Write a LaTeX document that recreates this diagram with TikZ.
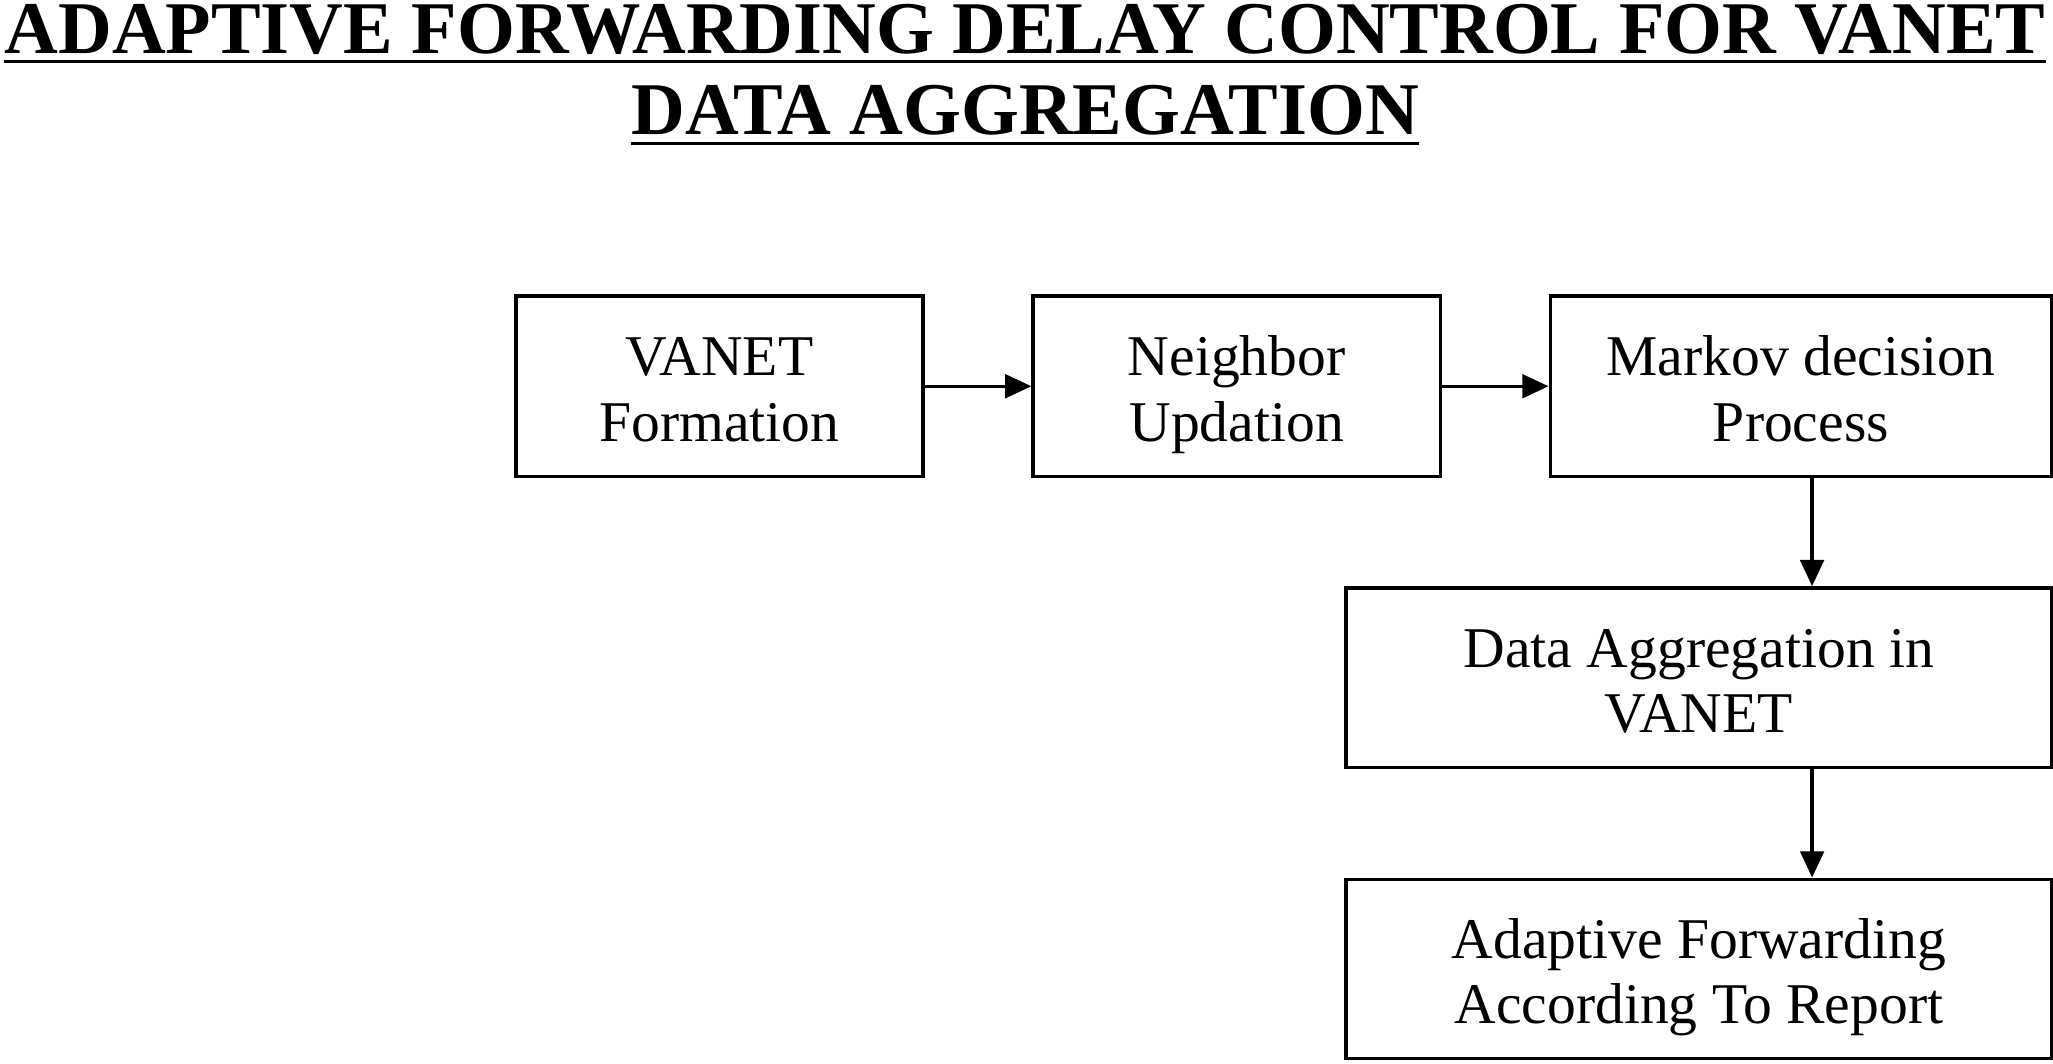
\documentclass[tikz,border=0pt]{standalone}
\usepackage{fontspec}
\setmainfont{Liberation Serif}
\usetikzlibrary{arrows.meta}
\newcommand{\topstrut}{\rule{0pt}{22pt}}
\newcommand{\botstrut}{\rule[-5pt]{0pt}{5pt}}
\begin{document}
\begin{tikzpicture}[x=0.5pt,y=-0.5pt,
  box/.style={draw,line width=1.3pt,align=center,inner sep=0pt,
    font=\fontsize{22}{25}\selectfont},
  hbox/.style={box,minimum height=69pt},
  vbox/.style={box,minimum width=269.5pt,minimum height=68.5pt},
  ttl/.style={inner sep=0pt,anchor=base,font=\bfseries\fontsize{28.4}{31.5}\selectfont},
  uline/.style={line width=1.1pt},
  arr/.style={line width=1.3pt,-{Triangle[length=10pt,width=9pt]}}]
\useasboundingbox (0,0) rectangle (1568,812);
% title
\node[ttl] (t1) at (783,41) {ADAPTIVE FORWARDING DELAY CONTROL FOR VANET};
\node[ttl] (t2) at (783,103) {DATA AGGREGATION};
\draw[uline] ([yshift=-3.0pt]t1.base west) -- ([yshift=-3.0pt]t1.base east);
\draw[uline] ([yshift=-3.4pt]t2.base west) -- ([yshift=-3.4pt]t2.base east);
% boxes
\node[hbox,minimum width=155.5pt] (b1) at (549.5,295) {\topstrut VANET\\Formation\botstrut};
\node[hbox,minimum width=155.5pt] (b2) at (944.5,295) {\topstrut Neighbor\\Updation\botstrut};
\node[hbox,minimum width=191.5pt] (b3) at (1375.5,295) {\topstrut Markov decision\\Process\botstrut};
\node[vbox] (b4) at (1297.5,517.5) {\topstrut Data Aggregation in\\VANET\botstrut};
\node[vbox] (b5) at (1297.5,740) {\topstrut Adaptive Forwarding\\According To Report\botstrut};
% connectors
\coordinate (ax) at (1384,0);
\draw[arr] (b1.east) -- (b2.west);
\draw[arr] (b2.east) -- (b3.west);
\draw[arr] (b3.south -| ax) -- (b4.north -| ax);
\draw[arr] (b4.south -| ax) -- (b5.north -| ax);
\end{tikzpicture}
\end{document}
